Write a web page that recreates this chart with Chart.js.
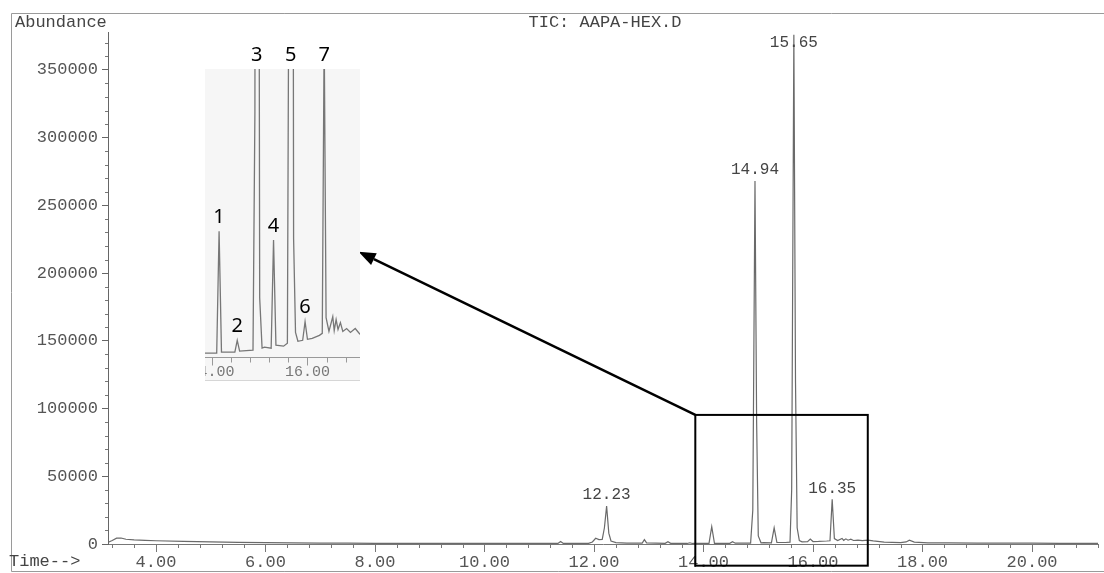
<!DOCTYPE html>
<html>
<head>
<meta charset="utf-8">
<title>TIC: AAPA-HEX.D</title>
<script src="https://cdn.jsdelivr.net/npm/chart.js@4.4.1/dist/chart.umd.min.js"></script>
<style>
  body { margin: 0; background: #fff; }
  #wrap { position: relative; width: 1104px; height: 573px; }
  #inset { position: absolute; left: 205px; top: 40px; }
</style>
</head>
<body>
<div id="wrap">
  <canvas id="chart" width="1104" height="573"></canvas>
  <canvas id="inset" width="155" height="345"></canvas>
</div>
<script>
// TIC trace: retention time (min) and abundance
const times = [
  3.12, 3.20, 3.28, 3.36, 3.45, 3.60, 3.80, 4.00, 4.50, 5.00, 5.50, 6.00, 6.50, 7.00, 7.50, 8.00,
  9.00, 10.00, 11.00, 11.34, 11.39, 11.44, 11.90, 11.97, 12.03, 12.09, 12.15, 12.19, 12.23, 12.27,
  12.31, 12.40, 12.60, 12.88, 12.92, 12.96, 13.30, 13.35, 13.40, 13.70, 13.75, 13.80, 14.10, 14.15,
  14.20, 14.48, 14.53, 14.58, 14.86, 14.90, 14.94, 14.97, 15.00, 15.05, 15.10, 15.24, 15.29, 15.34,
  15.50, 15.58, 15.61, 15.65, 15.68, 15.71, 15.75, 15.80, 15.90, 15.95, 16.00, 16.10, 16.25, 16.31,
  16.35, 16.39, 16.45, 16.53, 16.56, 16.60, 16.64, 16.69, 16.74, 16.82, 16.90, 17.00, 17.10, 17.30,
  17.60, 17.70, 17.76, 17.85, 18.10, 18.50, 19.00, 19.50, 20.00, 20.50, 21.21
];
const abundance = [
  1200, 2600, 4300, 4400, 3500, 3000, 2700, 2400, 1900, 1500, 1200, 1000, 800, 700, 600, 500,
  400, 400, 400, 400, 1900, 400, 500, 1500, 4200, 3200, 3400, 12000, 28000, 8000,
  2200, 1000, 700, 600, 3200, 800, 500, 1700, 500, 400, 900, 400, 400, 12800,
  500, 500, 1700, 600, 700, 25000, 268000, 90000, 6000, 900, 1000, 900, 11900, 1200,
  1100, 1400, 40000, 376000, 120000, 12000, 2500, 1600, 1700, 3600, 1800, 1900, 2200, 2400,
  33000, 4000, 2600, 4100, 2700, 3800, 2800, 3500, 2600, 2900, 2500, 2900, 2300, 1400,
  1000, 1500, 2800, 1400, 900, 800, 700, 600, 600, 500, 500
];

// axis ticks
const xTicks = [4, 6, 8, 10, 12, 14, 16, 18, 20];
const yTicks = [0, 50000, 100000, 150000, 200000, 250000, 300000, 350000];
const insetTicks = [14, 16];

// peaks marked with their retention time
const labelledPeaks = [12.23, 14.94, 15.65, 16.35];
// peaks numbered in the enlarged view
const numberedPeaks = [14.15, 14.53, 14.94, 15.29, 15.65, 15.95, 16.35];
const peakNumbers = ["1", "2", "3", "4", "5", "6", "7"];

const MONO = "'Liberation Mono', 'DejaVu Sans Mono', monospace";
Chart.defaults.font.family = MONO;

function valueAt(t) {
  return abundance[times.indexOf(t)];
}

const points = times.map((t, i) => ({ x: t, y: abundance[i] }));

// Frame, headings, minor ticks, peak labels and the zoom box
const mainDecor = {
  id: "mainDecor",
  afterDraw(chart) {
    const c = chart.ctx;
    const x = chart.scales.x, y = chart.scales.y;
    const area = chart.chartArea;
    c.save();

    // outer frame
    c.strokeStyle = "#9a9a9a";
    c.lineWidth = 1;
    c.beginPath();
    c.moveTo(1110, 13.5);
    c.lineTo(11.5, 13.5);
    c.lineTo(11.5, 571.5);
    c.lineTo(1110, 571.5);
    c.stroke();

    // headings
    c.fillStyle = "#444";
    c.font = "17px " + MONO;
    c.textBaseline = "middle";
    c.textAlign = "left";
    c.fillText("Abundance", 15, 22);
    c.fillText("Time-->", 9, 561);
    c.textAlign = "center";
    c.fillText("TIC: AAPA-HEX.D", 605, 22);

    // minor ticks
    c.strokeStyle = "#777";
    c.beginPath();
    for (let v = 0; v < y.max; v += 10000) {
      if (v % 50000 === 0) continue;
      const py = Math.round(y.getPixelForValue(v)) + 0.5;
      c.moveTo(area.left - 3, py);
      c.lineTo(area.left, py);
    }
    for (let k = 8; k * 0.4 <= x.max; k++) {
      if (k % 5 === 0) continue;
      const px = Math.round(x.getPixelForValue(k * 0.4)) + 0.5;
      c.moveTo(px, area.bottom);
      c.lineTo(px, area.bottom + 4);
    }
    c.stroke();

    // retention time labels
    c.fillStyle = "#444";
    c.font = "16px " + MONO;
    labelledPeaks.forEach(t => {
      const px = x.getPixelForValue(t);
      const py = Math.max(y.getPixelForValue(valueAt(t)), area.top + 22);
      c.fillText(t.toFixed(2), px, py - 11);
    });

    // zoom box and arrow
    const bx1 = x.getPixelForValue(13.85), bx2 = x.getPixelForValue(17.0);
    const by1 = y.getPixelForValue(95300), by2 = y.getPixelForValue(-16000);
    c.strokeStyle = "#000";
    c.lineWidth = 2;
    c.strokeRect(bx1, by1, bx2 - bx1, by2 - by1);

    const tx = x.getPixelForValue(7.70), ty = y.getPixelForValue(215800);
    const ang = Math.atan2(ty - by1, tx - bx1);
    const len = 17, half = 6.5;
    const hx = tx - len * Math.cos(ang), hy = ty - len * Math.sin(ang);
    c.lineWidth = 2.5;
    c.beginPath();
    c.moveTo(bx1, by1);
    c.lineTo(hx, hy);
    c.stroke();
    c.fillStyle = "#000";
    c.beginPath();
    c.moveTo(tx, ty);
    c.lineTo(hx + half * Math.sin(ang), hy - half * Math.cos(ang));
    c.lineTo(hx - half * Math.sin(ang), hy + half * Math.cos(ang));
    c.closePath();
    c.fill();

    c.restore();
  }
};

new Chart(document.getElementById("chart"), {
  type: "scatter",
  data: {
    datasets: [{
      data: points,
      showLine: true,
      borderColor: "#6a6a6a",
      borderWidth: 1.2,
      pointRadius: 0,
      tension: 0
    }]
  },
  options: {
    responsive: false,
    animation: false,
    events: [],
    layout: { padding: { top: 32, right: 6, left: 0, bottom: 0 } },
    plugins: { legend: { display: false }, tooltip: { enabled: false } },
    scales: {
      x: {
        type: "linear",
        min: 3.123,
        max: 21.205,
        afterBuildTicks: s => { s.ticks = xTicks.map(v => ({ value: v })); },
        afterFit: s => { s.height = 29; },
        ticks: {
          color: "#555",
          font: { size: 17 },
          padding: 0,
          maxRotation: 0,
          callback: v => v.toFixed(2)
        },
        grid: { drawOnChartArea: false, color: "#777", tickLength: 8 },
        border: { color: "#777" }
      },
      y: {
        min: 0,
        max: 378000,
        afterBuildTicks: s => { s.ticks = yTicks.map(v => ({ value: v })); },
        afterFit: s => { s.width = 108; },
        ticks: {
          color: "#555",
          font: { size: 17 },
          padding: 4,
          callback: v => String(v)
        },
        grid: { drawOnChartArea: false, color: "#666", tickLength: 6 },
        border: { color: "#666" }
      }
    }
  },
  plugins: [mainDecor]
});

// Enlarged view of 14-17 min
const insetDecor = {
  id: "insetDecor",
  beforeDraw(chart) {
    const c = chart.ctx;
    const area = chart.chartArea;
    c.save();
    c.fillStyle = "#f6f6f6";
    c.fillRect(0, area.top, chart.width, chart.height - area.top - 4);
    c.strokeStyle = "#d6d6d6";
    c.beginPath();
    c.moveTo(0, chart.height - 4.5);
    c.lineTo(chart.width, chart.height - 4.5);
    c.stroke();
    c.restore();
  },
  afterDraw(chart) {
    const c = chart.ctx;
    const x = chart.scales.x, y = chart.scales.y;
    const area = chart.chartArea;
    const base = Math.round(area.bottom) + 0.5;
    c.save();

    // axis line and ticks
    c.strokeStyle = "#999";
    c.lineWidth = 1;
    c.beginPath();
    c.moveTo(0, base);
    c.lineTo(chart.width, base);
    for (let k = 35; k * 0.4 <= x.max; k++) {
      const px = Math.round(x.getPixelForValue(k * 0.4)) + 0.5;
      c.moveTo(px, base);
      c.lineTo(px, base + (k % 5 === 0 ? 8 : 5));
    }
    c.stroke();

    c.fillStyle = "#777";
    c.font = "15px " + MONO;
    c.textAlign = "center";
    c.textBaseline = "middle";
    insetTicks.forEach(t => {
      c.fillText(t.toFixed(2), x.getPixelForValue(t), base + 15);
    });

    // peak numbers
    c.fillStyle = "#000";
    c.font = "20px 'Noto Sans', 'Liberation Sans', sans-serif";
    numberedPeaks.forEach((t, i) => {
      const px = x.getPixelForValue(t);
      const py = Math.max(y.getPixelForValue(valueAt(t)), area.top);
      c.fillText(peakNumbers[i], px, py - 14);
    });
    c.restore();
  }
};

new Chart(document.getElementById("inset"), {
  type: "scatter",
  data: {
    datasets: [{
      data: points,
      showLine: true,
      borderColor: "#777",
      borderWidth: 1.3,
      pointRadius: 0,
      tension: 0
    }]
  },
  options: {
    responsive: false,
    animation: false,
    events: [],
    layout: { padding: { top: 29, bottom: 28, left: 0, right: 0 } },
    plugins: { legend: { display: false }, tooltip: { enabled: false } },
    scales: {
      x: { type: "linear", min: 13.855, max: 17.10, display: false },
      y: { min: 0, max: 29300, display: false }
    }
  },
  plugins: [insetDecor]
});
</script>
</body>
</html>
